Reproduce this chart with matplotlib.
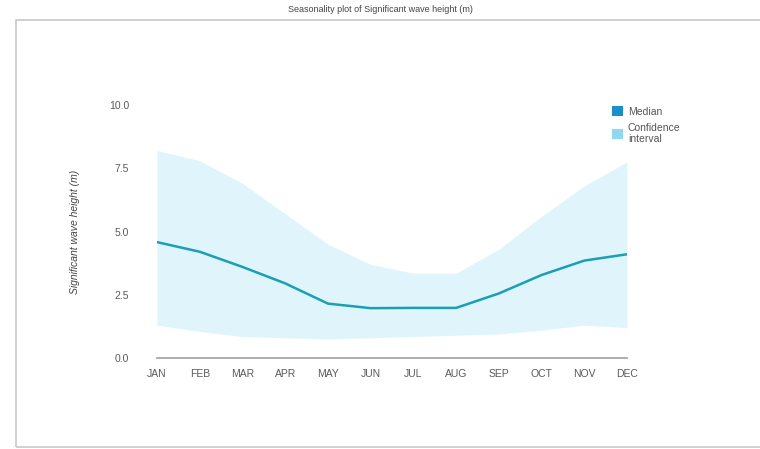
import matplotlib
matplotlib.use("Agg")
import matplotlib.pyplot as plt
from matplotlib.patches import Rectangle, Patch

plt.rcParams['font.family'] = ['Liberation Sans', 'DejaVu Sans']

months = ["JAN", "FEB", "MAR", "APR", "MAY", "JUN",
          "JUL", "AUG", "SEP", "OCT", "NOV", "DEC"]
median = [4.58, 4.2, 3.6, 2.95, 2.15, 1.97, 1.98, 1.98, 2.55, 3.28, 3.85, 4.1]
upper = [8.2, 7.8, 6.9, 5.7, 4.5, 3.7, 3.35, 3.35, 4.3, 5.6, 6.8, 7.75]
lower = [1.3, 1.05, 0.85, 0.8, 0.75, 0.8, 0.85, 0.9, 0.95, 1.1, 1.3, 1.2]
yticks = [0.0, 2.5, 5.0, 7.5, 10.0]

W, H = 760, 449
fig = plt.figure(figsize=(W / 100, H / 100), dpi=100)
fig.patch.set_facecolor("white")

# panel frame
fig.add_artist(Rectangle((16 / W, 2 / H), (W - 14) / W, (H - 22) / H,
                         transform=fig.transFigure, fill=False,
                         edgecolor="#c8c8c8", linewidth=1.2))

ax = fig.add_axes([157 / W, (H - 358) / H, (627 - 157) / W, (358 - 105) / H])
x = list(range(len(months)))

ax.fill_between(x, lower, upper, color="#dff5fb", linewidth=0)
ax.plot(x, median, color="#1a9fb3", linewidth=1.8)

ax.set_xlim(0, 11)
ax.set_ylim(0, 10)
ax.set_xticks(x)
ax.set_xticklabels(months)
ax.set_yticks(yticks)
ax.set_yticklabels([f"{v:.1f}" for v in yticks])
ax.tick_params(axis="both", length=0, labelsize=7.5, colors="#5a5a5a")
ax.tick_params(axis="x", pad=8)
ax.tick_params(axis="y", pad=20)
for s in ["top", "right", "left"]:
    ax.spines[s].set_visible(False)
ax.spines["bottom"].set_color("#a0a0a0")
ax.spines["bottom"].set_linewidth(1.2)
ax.set_ylabel("Significant wave height (m)", fontsize=7.5, style="italic",
              color="#444444", labelpad=21)

fig.text(0.5, 1 - 10 / H, "Seasonality plot of Significant wave height (m)",
         ha="center", va="center", fontsize=6.5, color="#444444")

handles = [Patch(facecolor="#1a8fc9", edgecolor="none", label="Median"),
           Patch(facecolor="#8fd8f0", edgecolor="none", label="Confidence\ninterval")]
fig.legend(handles=handles, loc="upper left", bbox_to_anchor=(603 / W, 1 - 97 / H),
           frameon=False, fontsize=7.5, handlelength=1.0, handleheight=1.0,
           handletextpad=0.5, labelspacing=0.6, labelcolor="#555555")

fig.savefig("out.png", dpi=100)
